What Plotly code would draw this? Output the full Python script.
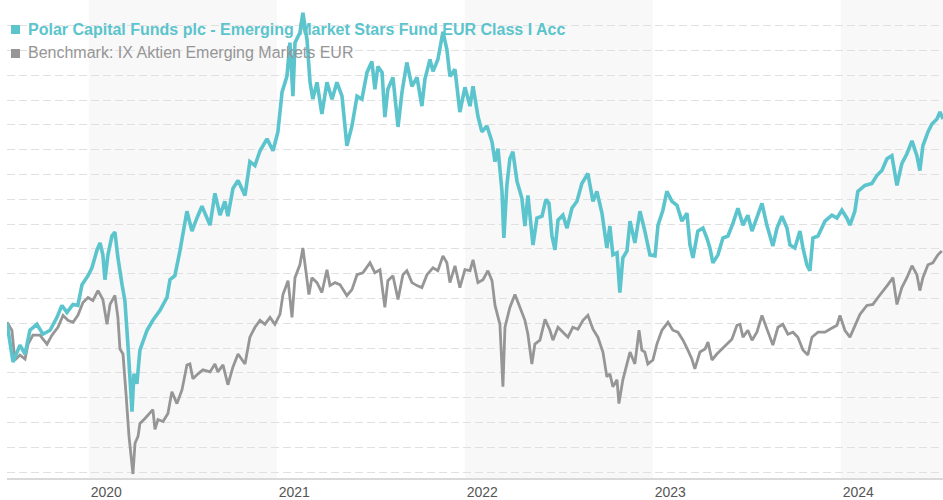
import plotly.graph_objects as go

# Decimal-year dates and indexed values
fund_t = [2019.564, 2019.596, 2019.633, 2019.660, 2019.686, 2019.723, 2019.755, 2019.793, 2019.830, 2019.856,
          2019.883, 2019.915, 2019.941, 2019.963, 2019.995, 2020.016, 2020.043, 2020.059, 2020.074, 2020.085,
          2020.101, 2020.122, 2020.138, 2020.154, 2020.176, 2020.191, 2020.207, 2020.229, 2020.239, 2020.255,
          2020.271, 2020.309, 2020.340, 2020.378, 2020.415, 2020.431, 2020.457, 2020.484, 2020.521, 2020.548,
          2020.574, 2020.601, 2020.644, 2020.670, 2020.697, 2020.723, 2020.739, 2020.766, 2020.793, 2020.830,
          2020.856, 2020.883, 2020.910, 2020.947, 2020.979, 2021.005, 2021.027, 2021.053, 2021.069, 2021.085,
          2021.096, 2021.122, 2021.138, 2021.160, 2021.176, 2021.191, 2021.213, 2021.239, 2021.266, 2021.293,
          2021.319, 2021.346, 2021.372, 2021.399, 2021.426, 2021.452, 2021.479, 2021.505, 2021.521, 2021.537,
          2021.559, 2021.574, 2021.590, 2021.617, 2021.644, 2021.665, 2021.691, 2021.718, 2021.745, 2021.771,
          2021.787, 2021.814, 2021.830, 2021.856, 2021.883, 2021.904, 2021.920, 2021.947, 2021.973, 2022.000,
          2022.027, 2022.043, 2022.069, 2022.090, 2022.117, 2022.144, 2022.160, 2022.176, 2022.197, 2022.207,
          2022.223, 2022.239, 2022.255, 2022.277, 2022.303, 2022.319, 2022.335, 2022.362, 2022.383, 2022.410,
          2022.431, 2022.447, 2022.463, 2022.479, 2022.495, 2022.521, 2022.543, 2022.569, 2022.596, 2022.622,
          2022.654, 2022.681, 2022.702, 2022.729, 2022.755, 2022.771, 2022.787, 2022.809, 2022.824, 2022.840,
          2022.862, 2022.878, 2022.904, 2022.931, 2022.957, 2022.984, 2023.011, 2023.027, 2023.053, 2023.074,
          2023.101, 2023.128, 2023.154, 2023.181, 2023.197, 2023.213, 2023.239, 2023.266, 2023.287, 2023.303,
          2023.319, 2023.346, 2023.372, 2023.399, 2023.426, 2023.452, 2023.479, 2023.505, 2023.527, 2023.553,
          2023.580, 2023.606, 2023.638, 2023.660, 2023.686, 2023.713, 2023.729, 2023.755, 2023.782, 2023.798,
          2023.819, 2023.835, 2023.851, 2023.878, 2023.915, 2023.952, 2023.979, 2024.005, 2024.032, 2024.048,
          2024.074, 2024.090, 2024.128, 2024.165, 2024.191, 2024.218, 2024.245, 2024.271, 2024.298, 2024.324,
          2024.351, 2024.378, 2024.404, 2024.420, 2024.436, 2024.463, 2024.484, 2024.511, 2024.527, 2024.543]
fund_v = [100.0, 84.4, 91.2, 87.6, 97.2, 99.6, 95.6, 97.2, 102.4, 107.2,
          104.4, 107.6, 107.2, 115.6, 119.2, 122.4, 129.6, 132.4, 127.6, 117.6,
          127.6, 135.2, 136.8, 126.4, 115.6, 109.2, 91.6, 64.4, 79.6, 75.6,
          89.2, 97.2, 101.2, 105.2, 110.4, 117.6, 119.2, 129.2, 145.2, 137.2,
          142.4, 147.2, 139.6, 152.4, 143.6, 149.2, 143.2, 154.4, 157.6, 151.6,
          165.2, 163.6, 169.6, 174.4, 169.6, 177.2, 193.2, 199.6, 213.2, 191.6,
          213.2, 217.2, 225.2, 214.4, 197.2, 190.4, 197.2, 184.4, 197.2, 190.4,
          197.2, 191.6, 171.6, 179.6, 191.6, 190.4, 201.2, 205.6, 194.4, 203.6,
          201.2, 183.2, 194.4, 199.2, 179.2, 193.2, 205.2, 195.6, 199.2, 187.6,
          198.4, 206.4, 201.6, 206.4, 217.6, 210.4, 199.6, 202.4, 185.2, 195.2,
          187.6, 195.6, 183.6, 177.2, 179.6, 173.2, 165.2, 170.4, 153.2, 134.4,
          155.6, 166.4, 169.2, 157.2, 150.4, 139.2, 151.6, 131.6, 142.4, 143.2,
          150.0, 148.4, 135.2, 129.6, 141.6, 143.6, 138.4, 146.4, 149.2, 156.4,
          160.4, 149.2, 153.2, 144.4, 130.4, 139.2, 127.6, 128.4, 112.4, 126.4,
          129.2, 141.2, 132.4, 145.2, 137.2, 127.6, 127.2, 139.6, 145.6, 153.2,
          149.2, 147.6, 141.2, 144.4, 131.6, 126.4, 137.2, 138.4, 134.4, 130.4,
          124.4, 127.6, 134.4, 135.2, 140.4, 146.4, 139.6, 143.6, 137.2, 142.4,
          148.4, 139.6, 131.2, 138.4, 143.2, 138.4, 131.6, 130.4, 137.2, 130.4,
          123.6, 121.2, 134.4, 135.2, 141.2, 143.6, 142.4, 145.6, 142.4, 139.6,
          145.2, 153.2, 155.6, 156.4, 159.6, 161.6, 166.4, 167.6, 155.6, 164.4,
          168.4, 173.6, 167.6, 161.6, 171.6, 177.2, 180.4, 182.4, 185.2, 182.4]

bench_t = [2019.564, 2019.590, 2019.606, 2019.633, 2019.660, 2019.676, 2019.702, 2019.739, 2019.777, 2019.803,
           2019.835, 2019.862, 2019.888, 2019.915, 2019.941, 2019.968, 2019.995, 2020.021, 2020.048, 2020.074,
           2020.096, 2020.112, 2020.138, 2020.154, 2020.165, 2020.181, 2020.197, 2020.213, 2020.234, 2020.245,
           2020.261, 2020.271, 2020.298, 2020.324, 2020.340, 2020.351, 2020.367, 2020.394, 2020.420, 2020.441,
           2020.468, 2020.495, 2020.521, 2020.537, 2020.553, 2020.580, 2020.606, 2020.644, 2020.670, 2020.686,
           2020.713, 2020.739, 2020.766, 2020.793, 2020.830, 2020.856, 2020.883, 2020.910, 2020.936, 2020.963,
           2020.989, 2021.016, 2021.032, 2021.059, 2021.080, 2021.096, 2021.122, 2021.138, 2021.160, 2021.170,
           2021.186, 2021.213, 2021.239, 2021.266, 2021.282, 2021.309, 2021.335, 2021.372, 2021.399, 2021.426,
           2021.457, 2021.495, 2021.521, 2021.548, 2021.574, 2021.590, 2021.617, 2021.644, 2021.670, 2021.691,
           2021.718, 2021.745, 2021.771, 2021.798, 2021.830, 2021.856, 2021.883, 2021.904, 2021.920, 2021.947,
           2021.973, 2022.000, 2022.027, 2022.043, 2022.069, 2022.096, 2022.122, 2022.144, 2022.160, 2022.186,
           2022.202, 2022.213, 2022.239, 2022.266, 2022.293, 2022.319, 2022.335, 2022.356, 2022.372, 2022.399,
           2022.426, 2022.452, 2022.468, 2022.495, 2022.532, 2022.548, 2022.574, 2022.601, 2022.628, 2022.654,
           2022.681, 2022.707, 2022.734, 2022.755, 2022.771, 2022.787, 2022.809, 2022.819, 2022.840, 2022.862,
           2022.878, 2022.904, 2022.926, 2022.941, 2022.957, 2022.973, 2023.000, 2023.021, 2023.048, 2023.080,
           2023.106, 2023.133, 2023.160, 2023.186, 2023.207, 2023.223, 2023.250, 2023.277, 2023.293, 2023.314,
           2023.340, 2023.367, 2023.394, 2023.420, 2023.447, 2023.463, 2023.479, 2023.505, 2023.527, 2023.553,
           2023.580, 2023.606, 2023.638, 2023.665, 2023.691, 2023.718, 2023.745, 2023.771, 2023.798, 2023.824,
           2023.846, 2023.878, 2023.915, 2023.941, 2023.979, 2023.995, 2024.021, 2024.048, 2024.074, 2024.101,
           2024.138, 2024.170, 2024.197, 2024.223, 2024.250, 2024.277, 2024.298, 2024.324, 2024.351, 2024.378,
           2024.404, 2024.420, 2024.436, 2024.463, 2024.489, 2024.516, 2024.537]
bench_v = [100.4, 97.2, 85.2, 87.2, 85.6, 91.6, 95.2, 95.2, 91.6, 95.2,
           98.4, 103.2, 101.2, 100.4, 103.2, 108.4, 110.4, 109.2, 113.2, 109.6,
           99.6, 107.6, 111.2, 102.4, 89.6, 87.6, 71.6, 54.4, 39.2, 51.6,
           54.4, 59.6, 61.6, 63.6, 65.2, 57.2, 61.2, 60.4, 63.6, 72.4,
           67.6, 73.2, 83.2, 83.6, 77.6, 79.6, 81.2, 80.4, 83.6, 80.4,
           83.2, 75.2, 82.4, 87.6, 83.6, 94.4, 98.4, 101.2, 99.6, 102.4,
           99.6, 103.6, 111.6, 117.2, 102.4, 118.4, 123.6, 130.4, 118.4, 111.6,
           118.4, 116.4, 112.4, 121.6, 115.2, 116.4, 115.6, 111.2, 113.6, 119.6,
           120.4, 124.4, 120.4, 121.6, 106.4, 117.2, 119.2, 109.6, 119.6, 121.2,
           116.4, 115.2, 114.4, 119.6, 122.4, 121.2, 127.2, 124.4, 116.4, 123.2,
           114.4, 121.6, 121.2, 125.6, 116.4, 117.6, 121.2, 117.2, 107.2, 99.6,
           74.4, 98.4, 106.4, 111.6, 106.4, 101.2, 95.6, 83.6, 91.6, 93.2,
           101.6, 97.2, 93.2, 98.4, 95.6, 94.4, 98.4, 97.6, 101.2, 103.2,
           97.6, 94.4, 88.4, 78.4, 79.6, 74.4, 77.2, 67.6, 77.2, 83.2,
           88.4, 83.6, 97.2, 89.2, 88.4, 83.6, 85.2, 91.6, 97.2, 100.4,
           97.2, 96.4, 93.2, 89.2, 85.6, 81.6, 88.4, 89.6, 92.4, 85.2,
           87.6, 89.6, 91.6, 93.6, 99.2, 99.6, 94.4, 97.2, 93.2, 96.4,
           103.2, 97.6, 91.2, 98.4, 99.6, 95.6, 96.4, 94.4, 89.2, 87.2,
           94.4, 96.4, 96.4, 97.6, 99.2, 103.2, 97.2, 94.4, 99.2, 103.6,
           107.2, 107.6, 110.4, 113.2, 115.6, 118.4, 107.6, 114.4, 118.4, 123.2,
           119.6, 113.2, 118.4, 123.6, 124.4, 127.6, 129.2]

years = [2020, 2021, 2022, 2023, 2024]
year_labels = ["2020", "2021", "2022", "2023", "2024"]
shaded_years = [2020, 2022, 2024]

fund_name = "Polar Capital Funds plc - Emerging Market Stars Fund EUR Class I Acc"
bench_name = "Benchmark: IX Aktien Emerging Markets EUR"

TEAL = "rgb(91,196,205)"
GREY = "rgb(150,150,150)"

fig = go.Figure()
fig.add_trace(go.Scatter(x=bench_t, y=bench_v, mode="lines", name=bench_name,
                         line=dict(color=GREY, width=2.8), showlegend=False))
fig.add_trace(go.Scatter(x=fund_t, y=fund_v, mode="lines", name=fund_name,
                         line=dict(color=TEAL, width=3.6), showlegend=False))

x0, x1 = 2019.564, 2024.543
for yr in shaded_years:
    fig.add_shape(type="rect", xref="x", yref="paper", x0=yr, x1=min(yr + 1, x1), y0=0, y1=1,
                  fillcolor="rgb(248,248,248)", line=dict(width=0), layer="below")

# legend: colored squares + labels
for color, top in [(TEAL, 25), (GREY, 49)]:
    fig.add_shape(type="rect", xref="paper", yref="paper", xsizemode="pixel", ysizemode="pixel",
                  xanchor=0, yanchor=1, x0=4, x1=13, y0=-(top + 9), y1=-top,
                  fillcolor=color, line=dict(width=0), layer="above")

fig.add_annotation(xref="paper", yref="paper", x=0.0, y=1, xshift=19, yshift=-29,
                   xanchor="left", yanchor="middle", showarrow=False,
                   text="<b>" + fund_name + "</b>",
                   font=dict(family="Liberation Sans, Arial", size=16, color=TEAL))
fig.add_annotation(xref="paper", yref="paper", x=0.0, y=1, xshift=19, yshift=-52,
                   xanchor="left", yanchor="middle", showarrow=False,
                   text=bench_name,
                   font=dict(family="Liberation Sans, Arial", size=16, color=GREY))

fig.update_layout(
    width=943, height=500,
    margin=dict(l=7, r=0, t=0, b=18),
    paper_bgcolor="white", plot_bgcolor="white",
    xaxis=dict(range=[x0, x1], tickmode="array",
               tickvals=[y + 0.092 for y in years], ticktext=year_labels,
               showgrid=False, zeroline=False, showline=True, linecolor="#d9d9d9", linewidth=2,
               ticks="", tickfont=dict(family="Liberation Sans Narrow, Liberation Sans, Arial", size=14, color="#555555")),
    yaxis=dict(range=[37.6, 230.4], tick0=0, dtick=10, showticklabels=False,
               showgrid=True, gridcolor="#e0e0e0", griddash="8px,4px", gridwidth=1,
               zeroline=False, showline=False),
    showlegend=False,
)

fig.write_html("out.html", config={"displayModeBar": False},
               post_script="document.body.style.margin='0';document.body.style.overflow='hidden';")
